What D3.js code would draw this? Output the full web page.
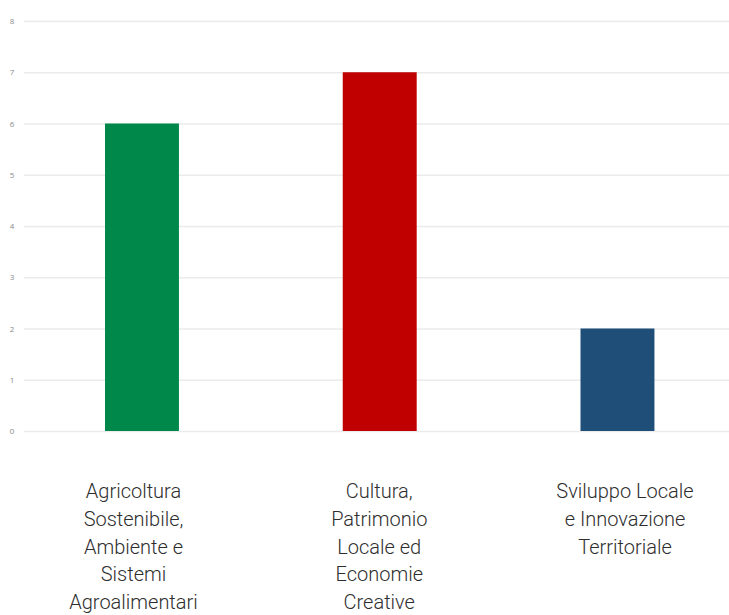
<!DOCTYPE html>
<html>
<head>
<meta charset="utf-8">
<script src="https://cdn.jsdelivr.net/npm/d3@7"></script>
<style>
  html, body { margin: 0; padding: 0; background: #fff; }
  svg { display: block; }
</style>
</head>
<body>
<svg id="chart" width="729" height="615"></svg>
<script>
const categories = [
  ["Agricoltura", "Sostenibile,", "Ambiente e", "Sistemi", "Agroalimentari"],
  ["Cultura,", "Patrimonio", "Locale ed", "Economie", "Creative"],
  ["Sviluppo Locale", "e Innovazione", "Territoriale"]
];
const values = [6, 7, 2];
const colors = ["#00874a", "#c00000", "#1f4e79"];
const yTicks = [0, 1, 2, 3, 4, 5, 6, 7, 8];

const svg = d3.select("#chart");
const W = 729;

const y = d3.scaleLinear().domain([0, 8]).range([431, 21]);
const x = d3.scaleBand()
  .domain(d3.range(values.length))
  .range([23.1, 736.35])
  .paddingInner(0.689)
  .paddingOuter(0.3445);
const xl = d3.scalePoint()
  .domain(d3.range(values.length))
  .range([133.5, 625]);

// gridlines
const yAxis = d3.axisLeft(y).tickValues(yTicks).tickSize(-(W - 24)).tickPadding(8);
const gAxis = svg.append("g").attr("transform", "translate(24,0)").call(yAxis);
gAxis.select(".domain").remove();
gAxis.selectAll(".tick line").attr("stroke", "#ebebeb").attr("stroke-width", 1.5);
gAxis.selectAll(".tick text")
  .attr("fill", "#8a8a8a")
  .attr("font-family", "Open Sans, sans-serif")
  .attr("font-size", 8)
  .attr("text-anchor", "middle")
  .attr("x", -12);

// bars
svg.append("g").selectAll("rect")
  .data(values)
  .join("rect")
  .attr("x", (d, i) => x(i))
  .attr("width", x.bandwidth())
  .attr("y", d => y(d))
  .attr("height", d => y(0) - y(d))
  .attr("fill", (d, i) => colors[i]);

// category labels
const lbl = svg.append("g").selectAll("text")
  .data(categories)
  .join("text")
  .attr("text-anchor", "middle")
  .attr("font-family", "Roboto, sans-serif")
  .attr("font-size", 20)
  .attr("font-weight", 300)
  .attr("fill", "#2e2e2e");
lbl.each(function(lines, i) {
  const t = d3.select(this);
  lines.forEach((l, j) => {
    t.append("tspan")
      .attr("x", xl(i))
      .attr("y", 498 + j * 27.8)
      .text(l);
  });
});
</script>
</body>
</html>
